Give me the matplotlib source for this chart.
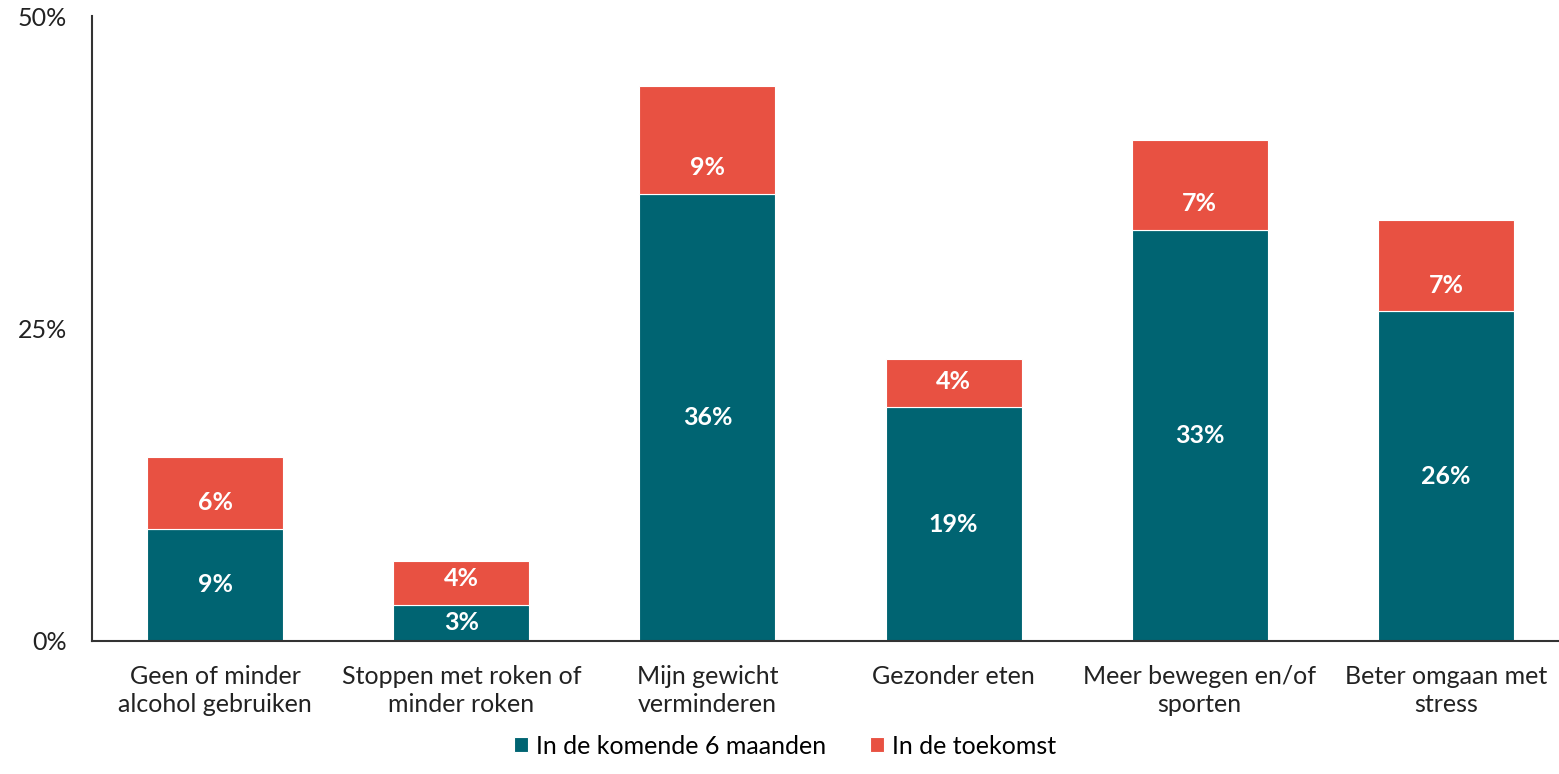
import matplotlib.pyplot as plt
import numpy as np

# data
categories = ['Geen of minder\nalcohol gebruiken', 'Stoppen met roken of\nminder roken',
              'Mijn gewicht\nverminderen', 'Gezonder eten',
              'Meer bewegen en/of\nsporten', 'Beter omgaan met\nstress']
komende = [9.0, 2.9, 35.8, 18.7, 32.9, 26.4]
toekomst = [5.7, 3.5, 8.6, 3.9, 7.2, 7.3]
komende_labels = ['9%', '3%', '36%', '19%', '33%', '26%']
toekomst_labels = ['6%', '4%', '9%', '4%', '7%', '7%']
series_names = ['In de komende 6 maanden', 'In de toekomst']

teal = '#006472'
red = '#E85142'

plt.rcParams['font.family'] = ['Lato', 'DejaVu Sans']

fig = plt.figure(figsize=(15.59, 7.74), dpi=100)
ax = fig.add_axes([92 / 1559, 133 / 774, 1477 / 1559, 625 / 774])

x = np.arange(len(categories))
w = 0.552
b1 = ax.bar(x, komende, w, color=teal, edgecolor='white', linewidth=0.8, label=series_names[0])
b2 = ax.bar(x, toekomst, w, bottom=komende, color=red, edgecolor='white', linewidth=0.8,
            label=series_names[1])

# teal labels centred, red labels a fixed distance above the teal top
for i in range(len(x)):
    ax.text(x[i], komende[i] / 2, komende_labels[i], ha='center', va='center',
            color='white', fontsize=18, fontweight='bold')
    ax.annotate(toekomst_labels[i], (x[i], komende[i]), xytext=(0, 18.7),
                textcoords='offset points', ha='center', va='center',
                color='white', fontsize=18, fontweight='bold')

ax.set_xlim(-0.5, 5.5)
ax.set_ylim(0, 50)
ax.set_yticks([0, 25, 50])
ax.set_yticklabels(['0%', '25%', '50%'], fontsize=18, color='#222222')
ax.set_xticks(x)
ax.set_xticklabels(categories, fontsize=18, color='#222222', linespacing=1.3)
ax.tick_params(axis='y', length=0, pad=18)
ax.tick_params(axis='x', length=0, pad=17)

for s in ['top', 'right']:
    ax.spines[s].set_visible(False)
for s in ['left', 'bottom']:
    ax.spines[s].set_color('#333333')
    ax.spines[s].set_linewidth(1.5)

fig.legend(handles=[b1, b2], labels=series_names, loc='center', bbox_to_anchor=(785 / 1559, 1 - 746 / 774),
           ncol=2, frameon=False, fontsize=18, handlelength=0.55, handleheight=0.55,
           columnspacing=1.75, handletextpad=0.32)

plt.savefig('out.png', dpi=100)
